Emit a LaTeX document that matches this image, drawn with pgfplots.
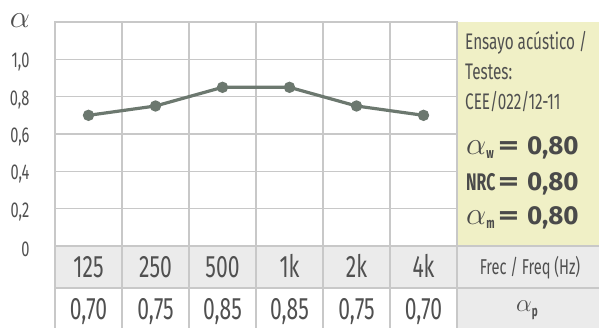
\RequirePackage{fix-cm}
\documentclass[border=0pt]{standalone}
\usepackage{fontspec}
\setmainfont{Fira Sans}[FakeStretch=0.68]
\newfontfamily\bnum{Fira Sans}[FakeStretch=1.0]
\newfontfamily\bnar{Fira Sans}[FakeStretch=0.66]
\usepackage{pgfplots}
\pgfplotsset{compat=1.18}
\definecolor{txt}{HTML}{505050}
\definecolor{btxt}{HTML}{4A4A4A}
\definecolor{gridc}{HTML}{C8C8C8}
\definecolor{lnc}{HTML}{6C786F}
\definecolor{yelc}{HTML}{F0F0C6}
\definecolor{rowgray}{HTML}{EBEBEB}
\newcommand{\fs}[1]{\fontsize{#1}{#1}\selectfont}
\begin{document}
\begin{tikzpicture}[x=1pt,y=1pt]
\useasboundingbox (0,0) rectangle (599,328);
\fill[yelc] (457,82) rectangle (599,306);
\fill[rowgray] (55,40) rectangle (599,82);
\fill[rowgray] (457,0) rectangle (599,40);
\begin{axis}[at={(55pt,82pt)},anchor=south west,scale only axis,width=402pt,height=224pt,
 xmin=0,xmax=6,ymin=0,ymax=1.2,
 xtick={1,2,3,4,5}, xticklabels={}, ytick={0,0.2,0.4,0.6,0.8,1.0},
 yticklabels={0,{0,2},{0,4},{0,6},{0,8},{1,0}},
 major tick length=0, xmajorgrids, ymajorgrids, grid style={gridc, line width=1.2pt},
 axis line style={gridc, line width=1.2pt},
 yticklabel style={font=\fs{21.5}, text=txt, anchor=east, xshift=-22pt, yshift=-3pt},
 clip=false]
\addplot[lnc, line width=3.2pt, mark=*, mark size=4pt, mark options={fill=lnc, draw=lnc}] coordinates {(0.5,0.70)(1.5,0.75)(2.5,0.85)(3.5,0.85)(4.5,0.75)(5.5,0.70)};
\end{axis}
\foreach \x in {55,122,189,256,323,390,457} \draw[gridc,line width=1.2pt] (\x,0)--(\x,82);
\draw[gridc,line width=1.2pt] (55,40)--(599,40);
\draw[gridc,line width=1.2pt] (457,82)--(599,82);
\node[anchor=base,text=txt,font=\fs{32},inner sep=0] at (20,300) {$\alpha$};
\foreach \l [count=\i from 0] in {125,250,500,1k,2k,4k}
  \node[anchor=base,text=txt,font=\fs{31},inner sep=0] at (88.5+67*\i,50) {\l};
\foreach \l [count=\i from 0] in {{0,70},{0,75},{0,85},{0,85},{0,75},{0,70}}
  \node[anchor=base,text=txt,font=\fs{31},inner sep=0] at (88.5+67*\i,8) {\l};
\node[anchor=base,text=txt,font=\fs{21.5},inner sep=0] at (530,53) {Frec / Freq (Hz)};
\node[anchor=base,text=txt,inner sep=0] at (527,16) {\fs{25}$\alpha$\raisebox{-5pt}{\bnar\fs{15}\bfseries p}};
\node[anchor=base west,text=txt,font=\fs{22.5},inner sep=0] at (465,278) {Ensayo acústico /};
\node[anchor=base west,text=txt,font=\fs{22.5},inner sep=0] at (465,248) {Testes:};
\node[anchor=base west,text=txt,font=\fs{22.5},inner sep=0] at (465,218) {CEE/022/12-11};
\node[anchor=base west,text=btxt,inner sep=0] at (466,173) {\fs{32}$\alpha$\raisebox{-4pt}{\bnar\fs{15}\bfseries w}};
\node[anchor=base west,text=btxt,font=\bnar\fs{24}\bfseries,inner sep=0] at (466,137) {NRC};
\node[anchor=base west,text=btxt,inner sep=0] at (466,103) {\fs{32}$\alpha$\raisebox{-4pt}{\bnar\fs{15}\bfseries m}};
\foreach \y in {173,137,103}{
  \node[anchor=base west,text=btxt,font=\bnum\fs{26}\bfseries,inner sep=0] at (498,\y) {\scalebox{1.55}[1]{=}};
  \node[anchor=base west,text=btxt,font=\bnum\fs{26}\bfseries,inner sep=0] at (527,\y) {0,80};}
\end{tikzpicture}
\end{document}
